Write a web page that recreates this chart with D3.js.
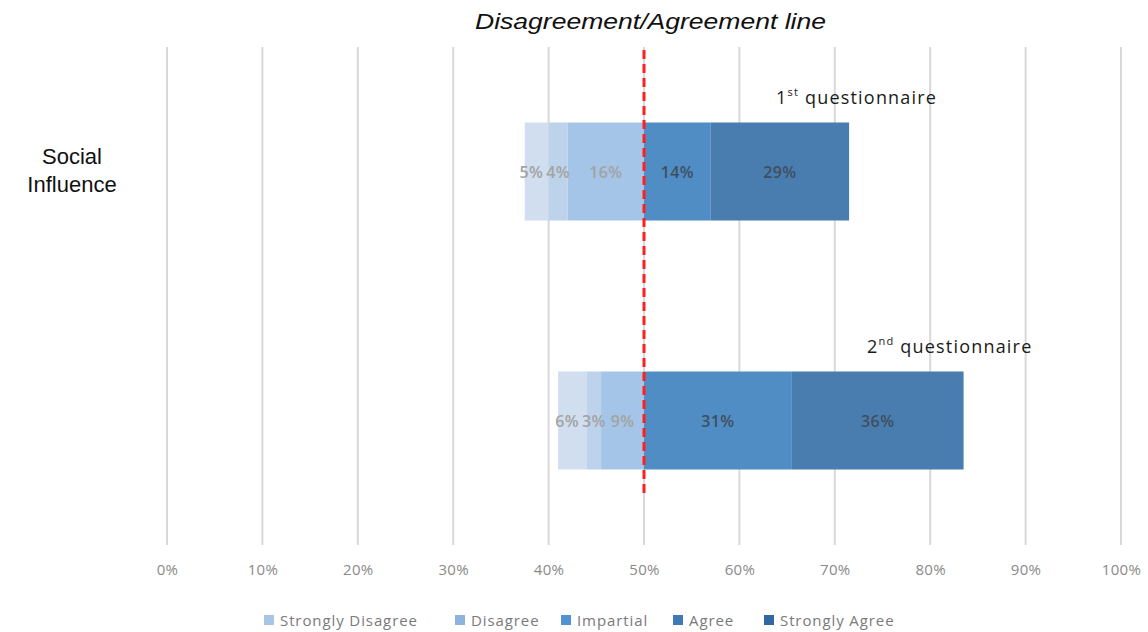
<!DOCTYPE html>
<html>
<head>
<meta charset="utf-8">
<script src="https://cdn.jsdelivr.net/npm/d3@7"></script>
<style>
  html, body { margin: 0; padding: 0; background: #fff; }
  svg { display: block; }
</style>
</head>
<body>
<svg id="chart" width="1148" height="632"></svg>
<script>
// Likert responses for "Social Influence", one row per questionnaire round
const categories = ["Strongly Disagree", "Disagree", "Impartial", "Agree", "Strongly Agree"];
const rounds = ["1st questionnaire", "2nd questionnaire"];
const roundSup = ["st", "nd"];
const roundNum = ["1", "2"];
const strongDisagree = [5, 6];
const disagree = [4, 3];
const impartial = [16, 9];
const agree = [14, 31];
const strongAgree = [29, 36];
const tickValues = [-100, -80, -60, -40, -20, 0, 20, 40, 60, 80, 100];

const barFill = ["#d0deef", "#bdd2eb", "#a4c5e7", "#4f8dc4", "#4a7daf"];
const legendFill = ["#a9c5e6", "#8eb3df", "#4f93d3", "#3f79b6", "#33679f"];

const series = [strongDisagree, disagree, impartial, agree, strongAgree];
const leftCount = 3; // first three categories sit left of the agreement line

const svg = d3.select("#chart");
const sans = "'Open Sans', sans-serif";
const arial = "'Liberation Sans', Arial, sans-serif";

// value axis: 0 is the disagreement/agreement line (shown as 50%)
const x = d3.scaleLinear().domain([-100, 100]).range([167, 1121]);
const y = d3.scaleBand().domain(rounds).range([47, 545]).paddingInner(0.6).paddingOuter(0.3);

// gridlines
svg.append("g").selectAll("line").data(tickValues).join("line")
  .attr("x1", d => x(d)).attr("x2", d => x(d))
  .attr("y1", 47).attr("y2", 545)
  .attr("stroke", "#d9d9d9").attr("stroke-width", 2);

// tick labels
const axis = d3.axisBottom(x).tickValues(tickValues)
  .tickFormat(d => ((d + 100) / 2) + "%").tickSize(0).tickPadding(0);
const ax = svg.append("g").attr("transform", "translate(0,564)").call(axis);
ax.select(".domain").remove();
ax.selectAll("text")
  .attr("font-family", sans)
  .attr("font-size", 15).attr("letter-spacing", 0.3).attr("fill", "#8a8a8a");

// stacked segments
const segs = [];
rounds.forEach((r, i) => {
  let left = -d3.sum(series.slice(0, leftCount), s => s[i]);
  series.forEach((s, k) => {
    const v = s[i];
    segs.push({ round: r, row: i, k, v, x0: left, x1: left + v });
    left += v;
  });
});

const bh = 98;
const yc = r => y(r) + y.bandwidth() / 2;

svg.append("g").selectAll("rect").data(segs).join("rect")
  .attr("x", d => x(d.x0)).attr("width", d => x(d.x1) - x(d.x0))
  .attr("y", d => yc(d.round) - bh / 2).attr("height", bh)
  .attr("fill", d => barFill[d.k]);

const labels = svg.append("g").selectAll("text").data(segs).join("text")
  .attr("x", d => (x(d.x0) + x(d.x1)) / 2)
  .attr("y", d => yc(d.round) + 6)
  .attr("text-anchor", "middle")
  .attr("font-family", sans)
  .attr("font-size", 16).attr("font-weight", 600).attr("letter-spacing", 0.4)
  .attr("fill", d => d.k < leftCount ? "#a3a3a3" : "#3f4f60")
  .text(d => d.v + "%");

// narrow segments: push labels leftwards so neighbours don't collide
rounds.forEach((r, i) => {
  const row = labels.filter(d => d.row === i && d.k < leftCount).nodes().reverse();
  let limit = Infinity;
  row.forEach(n => {
    const w = n.getComputedTextLength();
    let cx = +n.getAttribute("x");
    if (cx + w / 2 > limit - 3) cx = limit - 3 - w / 2;
    n.setAttribute("x", cx);
    limit = cx - w / 2;
  });
});

// disagreement/agreement line
svg.append("line")
  .attr("x1", x(0)).attr("x2", x(0))
  .attr("y1", 50).attr("y2", 497)
  .attr("stroke", "#ff1f1f").attr("stroke-width", 3)
  .attr("stroke-dasharray", "9,5");

svg.append("text")
  .attr("x", 475).attr("y", 29)
  .attr("textLength", 351).attr("lengthAdjust", "spacingAndGlyphs")
  .attr("font-family", arial)
  .attr("font-style", "italic").attr("font-size", 22).attr("fill", "#111")
  .text("Disagreement/Agreement line");

// round labels above each bar
const roundLabelX = [776, 867];
rounds.forEach((r, i) => {
  const t = svg.append("text")
    .attr("x", roundLabelX[i]).attr("y", yc(r) - 68)
    .attr("font-family", sans)
    .attr("font-size", 18).attr("letter-spacing", 1.2).attr("fill", "#1a1a1a");
  t.append("tspan").text(roundNum[i]);
  t.append("tspan").attr("font-size", 11).attr("dy", -8).text(roundSup[i]);
  t.append("tspan").attr("dy", 8).text(" questionnaire");
});

// row label
const rl = svg.append("text")
  .attr("font-family", arial)
  .attr("font-size", 22).attr("fill", "#111").attr("text-anchor", "middle");
rl.append("tspan").attr("x", 72).attr("y", 164).text("Social");
rl.append("tspan").attr("x", 72).attr("y", 192).text("Influence");

// legend
const legendX = [264, 455, 561, 673, 764];
const lg = svg.append("g").selectAll("g").data(categories).join("g")
  .attr("transform", (d, i) => `translate(${legendX[i]},620)`);
lg.append("rect").attr("x", 0).attr("y", -5).attr("width", 10).attr("height", 10)
  .attr("fill", (d, i) => legendFill[i]);
lg.append("text").attr("x", 16).attr("y", 5.5)
  .attr("font-family", sans)
  .attr("font-size", 15).attr("letter-spacing", 0.9).attr("fill", "#7a7a7a")
  .text(d => d);
</script>
</body>
</html>
